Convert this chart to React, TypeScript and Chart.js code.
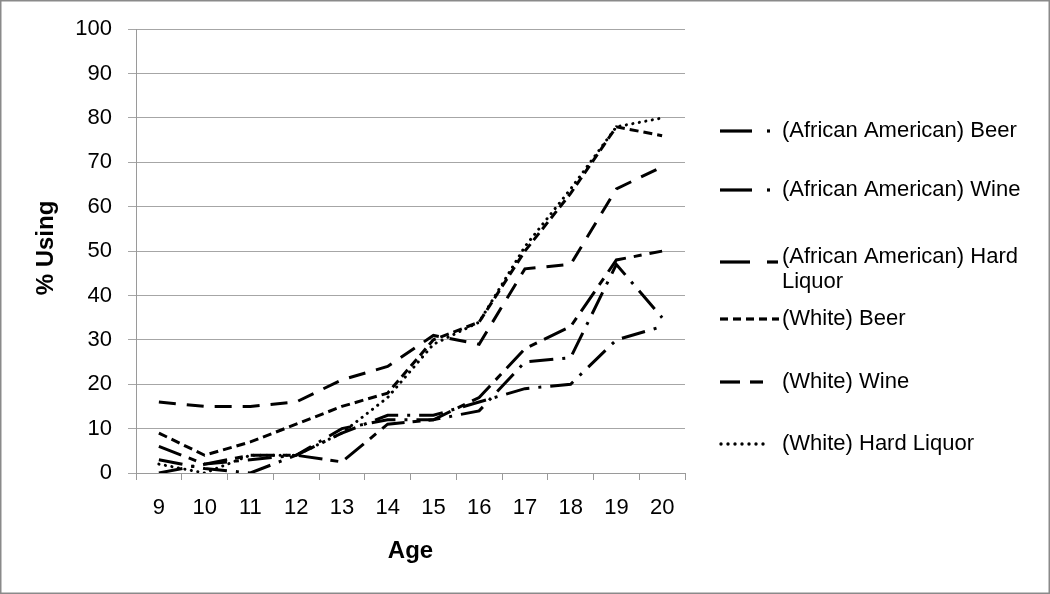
import React, { useEffect, useRef } from "react";
import { Chart, registerables } from "chart.js";

Chart.register(...registerables);

const ages = ["9", "10", "11", "12", "13", "14", "15", "16", "17", "18", "19", "20"];
const aaBeer = [3, 1, 0, 4, 10, 12, 12, 14, 25, 26, 47, 35];
const aaWine = [0, 2, 3, 4, 9, 13, 13, 16, 19, 20, 30, 33];
const aaLiquor = [6, 2, 4, 4, 2.5, 11, 12, 17, 28, 33, 48, 50];
const whiteBeer = [9, 4, 7, 11, 15, 18, 30, 34, 50, 63, 78, 76];
const whiteWine = [16, 15, 15, 16, 21, 24, 31, 29, 46, 47, 64, 69];
const whiteLiquor = [2, 0, 4, 4, 9, 17, 29, 34, 51, 64, 78, 80];
const yTicks = [0, 10, 20, 30, 40, 50, 60, 70, 80, 90, 100];

const FONT = "'Liberation Sans', Arial, sans-serif";

const legendItems = [
  { lines: ["(African American) Beer"], y: 131, ty: 131, segs: [[720, 752], [767, 770]] },
  { lines: ["(African American) Wine"], y: 190, ty: 190, segs: [[720, 752], [767, 770]] },
  { lines: ["(African American) Hard", "Liquor"], y: 262, ty: 257, segs: [[720, 750], [767, 778]] },
  { lines: ["(White) Beer"], y: 319, ty: 319, segs: [[720, 728], [733, 741], [746, 754], [759, 767], [772, 779]] },
  { lines: ["(White) Wine"], y: 382, ty: 382, segs: [[720, 740], [750, 763]] },
  { lines: ["(White) Hard Liquor"], y: 444, ty: 444, dots: true },
];

const decor = {
  id: "decor",
  afterDraw(chart: any) {
    const ctx = chart.ctx;
    ctx.save();
    ctx.strokeStyle = "#8a8a8a";
    ctx.lineWidth = 1.5;
    ctx.strokeRect(0.75, 0.75, chart.width - 1.5, chart.height - 1.5);
    ctx.fillStyle = "#000";
    ctx.font = `bold 24px ${FONT}`;
    ctx.textAlign = "center";
    ctx.textBaseline = "middle";
    const ca = chart.chartArea;
    ctx.fillText("Age", (ca.left + ca.right) / 2, 551);
    ctx.save();
    ctx.translate(46, 248);
    ctx.rotate(-Math.PI / 2);
    ctx.fillText("% Using", 0, 0);
    ctx.restore();
    ctx.font = `22px ${FONT}`;
    ctx.textAlign = "left";
    legendItems.forEach((it: any) => {
      ctx.strokeStyle = "#000";
      ctx.fillStyle = "#000";
      ctx.lineWidth = 3.2;
      if (it.dots) {
        for (let x = 721; x <= 769; x += 7) {
          ctx.beginPath();
          ctx.arc(x, it.y, 1.7, 0, Math.PI * 2);
          ctx.fill();
        }
      } else {
        it.segs.forEach((s: number[]) => {
          ctx.beginPath();
          ctx.moveTo(s[0], it.y);
          ctx.lineTo(s[1], it.y);
          ctx.stroke();
        });
      }
      it.lines.forEach((t: string, i: number) => {
        ctx.fillText(t, 782, it.ty + i * 25);
      });
    });
    ctx.restore();
  },
};

export default function App() {
  const ref = useRef<HTMLCanvasElement>(null);
  useEffect(() => {
    document.body.style.margin = "0";
    const mk = (label: string, data: number[], dash: number[], cap: string = "butt") => ({
      label,
      data,
      borderColor: "#000",
      backgroundColor: "#000",
      borderWidth: 3,
      borderDash: dash,
      borderCapStyle: cap,
      pointRadius: 0,
      tension: 0,
      fill: false,
    });
    const chart = new Chart(ref.current!, {
      type: "line",
      data: {
        labels: ages,
        datasets: [
          mk("(African American) Beer", aaBeer, [24, 9, 3, 9]),
          mk("(African American) Wine", aaWine, [24, 9, 3, 9]),
          mk("(African American) Hard Liquor", aaLiquor, [24, 8, 8, 8]),
          mk("(White) Beer", whiteBeer, [9, 5]),
          mk("(White) Wine", whiteWine, [17, 11]),
          mk("(White) Hard Liquor", whiteLiquor, [0.1, 6.5], "round"),
        ] as any,
      },
      options: {
        animation: false,
        responsive: false,
        maintainAspectRatio: false,
        layout: { padding: { left: 0, top: 23, right: 365, bottom: 0 } },
        plugins: { legend: { display: false }, tooltip: { enabled: false } },
        scales: {
          x: {
            type: "category",
            offset: true,
            grid: { offset: true, drawOnChartArea: false, drawTicks: true, tickLength: 7, color: "#9a9a9a", lineWidth: 1 },
            border: { color: "#9a9a9a", width: 1 },
            ticks: { color: "#000", font: { family: FONT, size: 22 }, padding: 15, maxRotation: 0, autoSkip: false },
            afterFit: (s: any) => { s.height = 121; },
          },
          y: {
            min: 0,
            max: 100,
            afterBuildTicks: (s: any) => { s.ticks = yTicks.map((v) => ({ value: v })); },
            ticks: { color: "#000", font: { family: FONT, size: 22 }, padding: 16 },
            grid: { color: "#a6a6a6", tickLength: 8, lineWidth: 1 },
            border: { color: "#9a9a9a", width: 1 },
            afterFit: (s: any) => { s.width = 136; },
          },
        } as any,
      },
      plugins: [decor],
    });
    return () => chart.destroy();
  }, []);
  return <canvas ref={ref} width={1050} height={594} style={{ display: "block" }} />;
}
